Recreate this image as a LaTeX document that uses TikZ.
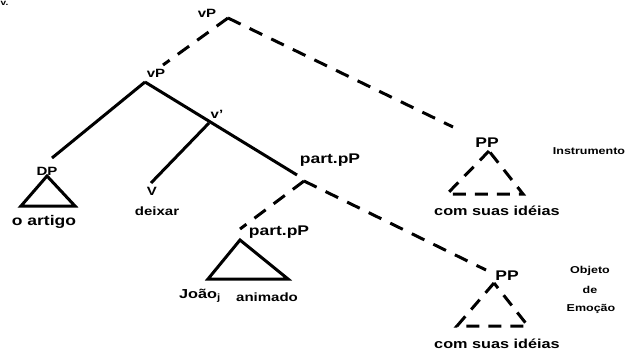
\documentclass[tikz,border=0pt]{standalone}
\usepackage{fontspec}
\setmainfont{Liberation Sans}[FakeStretch=1.25]
\begin{document}
\begin{tikzpicture}[x=1pt,y=-1pt,
  lab/.style={font=\bfseries\fontsize{12}{14}\selectfont, inner sep=0pt},
  big/.style={font=\bfseries\fontsize{14}{16}\selectfont, inner sep=0pt},
  leaf/.style={font=\bfseries\fontsize{13}{15}\selectfont, inner sep=0pt},
  note/.style={font=\bfseries\fontsize{10}{12}\selectfont, inner sep=0pt},
  tiny/.style={font=\bfseries\fontsize{8}{10}\selectfont, inner sep=0pt},
  branch/.style={line width=3pt},
  dbranch/.style={line width=3pt, dash pattern=on 14pt off 10pt},
  tri/.style={line width=3pt, line join=miter},
  dtri/.style={line width=3pt, dash pattern=on 13pt off 9pt},
]
\useasboundingbox (0,0) rectangle (629,353);

% heading fragment in the corner
\node[tiny, anchor=north west] (frag) at (0.5,1) {v.};

% upper vP
\node[lab] (vpTopL) at (207,13) {vP};
\coordinate (vpTop) at (228,18);
\coordinate (vpMidIn) at (163,65);
\coordinate (ppTopIn) at (453,127);
\draw[dbranch] (vpTop) -- (vpMidIn);
\draw[dbranch] (vpTop) -- (ppTopIn);

% lower vP and its branches
\node[lab] (vpMidL) at (156,73) {vP};
\coordinate (vpMid) at (145,82);
\coordinate (dpEnd) at (52,158);
\coordinate (ppartEnd) at (297,175);
\draw[branch] (vpMid) -- (dpEnd);
\draw[branch] (vpMid) -- (ppartEnd);

% v'
\node[lab] (vbarL) at (217,114) {v'};
\coordinate (vbar) at (209,123);
\coordinate (vEnd) at (151,183);
\draw[branch] (vbar) -- (vEnd);
\node[lab] (vL) at (152,191) {V};
\node[lab] (deixar) at (157,211) {deixar};

% DP
\node[lab] (dpL) at (47,171) {DP};
\coordinate (dpA) at (47,176);
\coordinate (dpB) at (21,206);
\coordinate (dpC) at (75,206);
\draw[tri] (dpA) -- (dpB) -- (dpC) -- cycle;
\node[big] (artigo) at (44,222) {o artigo};

% upper part.pP
\node[big] (ppartL) at (330,160) {part.pP};
\coordinate (ppart) at (304,181);
\coordinate (ppLowIn) at (240,229);
\coordinate (ppObjIn) at (486,270);
\draw[dbranch] (ppart) -- (ppLowIn);
\draw[dbranch] (ppart) -- (ppObjIn);

% lower part.pP
\node[big] (ppLowL) at (279,232) {part.pP};
\coordinate (plA) at (240,240);
\coordinate (plB) at (208,279);
\coordinate (plC) at (288,279);
\draw[tri] (plA) -- (plB) -- (plC) -- cycle;
\node[leaf] (joao) at (200,296) {João\textsubscript{j}};
\node[lab] (animado) at (267,297) {animado};

% PP: Instrumento
\node[big] (ppInsL) at (487,143) {PP};
\coordinate (piA) at (489,151);
\coordinate (piB) at (447,194);
\coordinate (piC) at (523,194);
\draw[dtri] (piA) -- (piB) -- (piC) -- (piA);
\node[leaf] (comI) at (497,211) {com suas idéias};
\node[note] (instr) at (589,151) {Instrumento};

% PP: Objeto de Emoção
\node[big] (ppObjL) at (507,276) {PP};
\coordinate (poA) at (494,283);
\coordinate (poB) at (457,326);
\coordinate (poC) at (528,326);
\draw[dtri] (poA) -- (poB) -- (poC) -- (poA);
\node[leaf] (comO) at (497,344) {com suas idéias};
\node[note] (objeto) at (590,271) {Objeto};
\node[note] (de) at (590,290) {de};
\node[note] (emocao) at (591,309) {Emoção};
\end{tikzpicture}
\end{document}
